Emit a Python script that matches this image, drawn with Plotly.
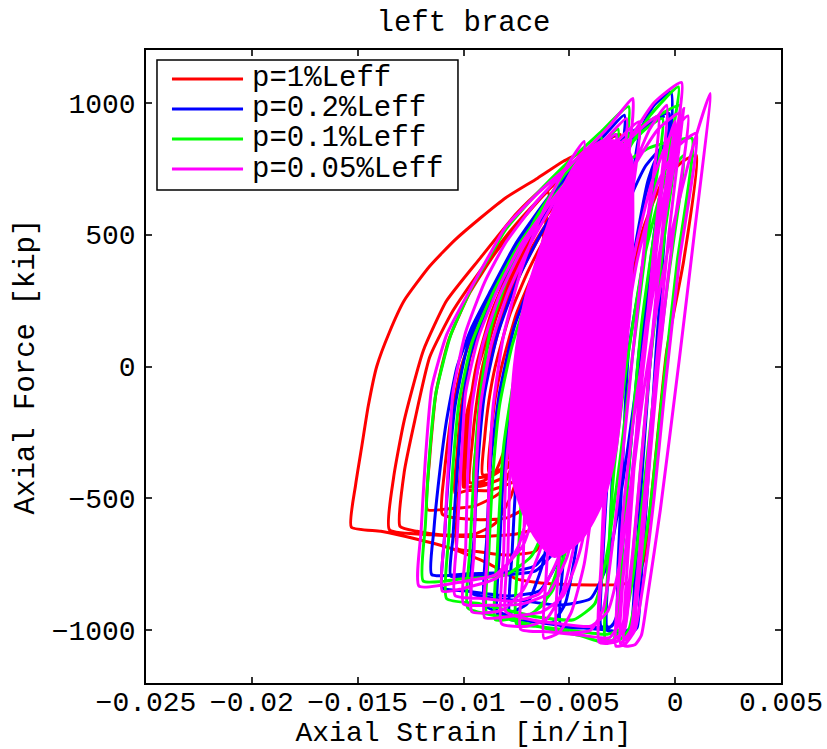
import plotly.graph_objects as go

FONT = "Liberation Mono"

series_names = ["p=1%Leff", "p=0.2%Leff", "p=0.1%Leff", "p=0.05%Leff"]
series_colors = ["#ff0000", "#0000ff", "#00ff00", "#ff00ff"]

x_tick_vals = [-0.025, -0.02, -0.015, -0.01, -0.005, 0, 0.005]
x_tick_text = ["\u22120.025", "\u22120.02", "\u22120.015", "\u22120.01", "\u22120.005", "0", "0.005"]
y_tick_vals = [-1000, -500, 0, 500, 1000]
y_tick_text = ["\u22121000", "\u2212500", "0", "500", "1000"]

# (axial strain [in/in], axial force [kip])
red_path = [
    (-0.0030, -300), (-0.0024, 150), (-0.0016, 500), (-0.0006, 700), (0.0004, 780), (0.0010, 800),
    (0.0004, 400), (-0.0004, 60), (-0.0010, -400), (-0.0015, -740), (-0.0019, -810), (-0.0025, -826),
    (-0.0040, -828), (-0.0054, -826), (-0.0066, -818), (-0.0075, -805), (-0.0089, -744), (-0.0105, -692),
    (-0.0121, -657), (-0.0139, -625), (-0.0153, -609),
    (-0.0151, -450), (-0.0148, -300), (-0.0145, -150), (-0.0141, 0), (-0.0135, 130), (-0.0128, 250),
    (-0.0116, 380), (-0.0104, 480), (-0.0092, 563), (-0.0080, 640), (-0.0065, 714), (-0.0053, 777),
    (-0.0040, 830), (-0.0030, 868), (-0.0026, 880),
    (-0.0033, 450), (-0.0040, 30), (-0.0046, -300), (-0.0052, -520), (-0.0060, -600), (-0.0075, -635),
    (-0.0095, -645), (-0.0115, -638), (-0.0135, -619),
    (-0.0133, -420), (-0.0128, -204), (-0.0119, 60), (-0.0108, 249), (-0.0092, 412), (-0.0075, 580),
    (-0.0062, 680), (-0.0048, 770),
    (-0.0055, 350), (-0.0062, 0), (-0.0070, -300), (-0.0078, -500), (-0.0085, -595), (-0.0095, -636),
    (-0.0111, -638), (-0.0122, -625), (-0.0130, -606),
    (-0.0128, -400), (-0.0123, -204), (-0.0116, 35), (-0.0105, 211), (-0.0091, 375), (-0.0078, 513),
    (-0.0066, 620), (-0.0055, 700),
    (-0.0062, 300), (-0.0069, -50), (-0.0076, -350), (-0.0083, -480), (-0.0095, -530), (-0.0108, -540),
    (-0.0117, -543),
    (-0.0116, -350), (-0.0113, -100), (-0.0107, 100), (-0.0097, 280), (-0.0085, 430), (-0.0072, 560),
    (-0.0060, 660),
    (-0.0066, 300), (-0.0072, 0), (-0.0078, -250), (-0.0085, -400), (-0.0094, -450), (-0.0100, -457),
    (-0.0099, -300), (-0.0097, -150), (-0.0094, 0), (-0.0087, 200), (-0.0078, 370), (-0.0068, 520),
    (-0.0058, 650), (-0.0052, 710),
    (-0.0060, 300), (-0.0067, 0), (-0.0074, -250), (-0.0082, -390), (-0.0091, -435), (-0.0097, -440),
    (-0.0096, -300), (-0.0094, -150), (-0.0091, 0), (-0.0084, 200), (-0.0075, 370), (-0.0065, 520),
    (-0.0055, 650), (-0.0049, 720),
    (-0.0057, 300), (-0.0064, 0), (-0.0071, -240), (-0.0079, -370), (-0.0088, -415), (-0.0094, -420),
    (-0.0093, -280), (-0.0091, -140), (-0.0088, 0), (-0.0081, 200), (-0.0072, 370), (-0.0062, 520),
    (-0.0052, 650), (-0.0046, 720),
    (-0.0054, 300), (-0.0061, 0), (-0.0068, -230), (-0.0076, -360), (-0.0085, -405), (-0.0091, -410),
    (-0.0090, -270), (-0.0088, -130), (-0.0085, 0), (-0.0078, 200), (-0.0069, 370), (-0.0059, 520),
    (-0.0049, 650), (-0.0043, 720),
    (-0.0051, 300), (-0.0058, 0), (-0.0065, -220), (-0.0073, -350), (-0.0082, -395), (-0.0088, -400),
    (-0.0087, -260), (-0.0085, -120), (-0.0082, 0), (-0.0075, 200), (-0.0066, 370), (-0.0056, 520),
    (-0.0046, 650), (-0.0040, 720),
    (-0.0046, 300), (-0.0051, -100), (-0.0055, -400), (-0.0059, -600), (-0.0066, -700), (-0.0080, -715),
    (-0.0095, -700), (-0.0103, -690),
    (-0.0102, -450), (-0.0099, -200), (-0.0093, 0), (-0.0084, 220), (-0.0073, 420), (-0.0060, 580),
    (-0.0048, 700), (-0.0040, 750),
    (-0.0047, 350), (-0.0054, -50), (-0.0061, -350), (-0.0068, -520), (-0.0080, -575), (-0.0095, -580),
    (-0.0110, -560),
    (-0.0109, -400), (-0.0106, -200), (-0.0101, 0), (-0.0093, 180), (-0.0082, 360), (-0.0070, 510),
    (-0.0058, 630), (-0.0046, 720),
    (-0.0053, 300), (-0.0060, -50), (-0.0067, -300), (-0.0075, -430), (-0.0088, -470), (-0.0098, -470),
    (-0.0104, -480),
    (-0.0103, -330), (-0.0101, -150), (-0.0097, 30), (-0.0090, 200), (-0.0080, 380), (-0.0069, 530),
    (-0.0058, 640), (-0.0050, 700),
    (-0.0057, 300), (-0.0064, -30), (-0.0071, -280), (-0.0079, -410), (-0.0090, -450), (-0.0099, -455),
    (-0.0098, -300), (-0.0096, -130), (-0.0092, 40), (-0.0085, 220), (-0.0076, 390), (-0.0065, 540),
    (-0.0054, 660), (-0.0047, 720),
    (-0.0054, 300), (-0.0061, -30), (-0.0068, -270), (-0.0076, -400), (-0.0087, -440), (-0.0095, -445),
    (-0.0094, -300), (-0.0092, -130), (-0.0088, 40), (-0.0081, 220), (-0.0072, 390), (-0.0061, 540),
    (-0.0050, 660), (-0.0044, 720),
]

blue_path = [
    (-0.0030, -300), (-0.0026, 100), (-0.0022, 500), (-0.0019, 780), (-0.0016, 903), (-0.0010, 990),
    (-0.0002, 1040),
    (-0.0005, 500), (-0.0009, 60), (-0.0013, -450), (-0.0016, -800), (-0.0018, -990), (-0.0022, -1018),
    (-0.0030, -1002), (-0.0045, -990), (-0.0060, -975), (-0.0070, -965), (-0.0078, -958),
    (-0.0077, -700), (-0.0075, -400), (-0.0073, -204), (-0.0069, 0), (-0.0056, 249), (-0.0045, 420),
    (-0.0037, 580), (-0.0030, 700), (-0.0026, 760),
    (-0.0033, 300), (-0.0040, -150), (-0.0048, -480), (-0.0056, -690), (-0.0066, -775), (-0.0080, -790),
    (-0.0095, -792), (-0.0106, -795),
    (-0.0105, -650), (-0.0104, -517), (-0.0101, -204), (-0.0097, 40), (-0.0088, 230), (-0.0075, 420),
    (-0.0061, 580), (-0.0047, 710), (-0.0036, 780), (-0.0031, 810),
    (-0.0038, 350), (-0.0044, -50), (-0.0050, -420), (-0.0057, -650), (-0.0066, -755), (-0.0080, -780),
    (-0.0098, -786), (-0.0115, -789),
    (-0.0114, -620), (-0.0112, -455), (-0.0108, -204), (-0.0103, 0), (-0.0096, 150), (-0.0087, 290),
    (-0.0075, 470), (-0.0060, 640), (-0.0045, 780), (-0.0033, 880), (-0.0024, 953),
    (-0.0030, 500), (-0.0036, 0), (-0.0042, -400), (-0.0047, -700), (-0.0052, -900), (-0.0058, -970),
    (-0.0068, -965), (-0.0078, -945), (-0.0090, -905),
    (-0.0089, -650), (-0.0087, -350), (-0.0083, -100), (-0.0076, 150), (-0.0064, 400), (-0.0050, 620),
    (-0.0036, 780), (-0.0022, 880), (-0.0010, 940), (-0.0003, 960),
    (-0.0010, 500), (-0.0017, 60), (-0.0022, -400), (-0.0025, -700), (-0.0027, -930), (-0.0030, -985),
    (-0.0040, -990), (-0.0054, -985),
    (-0.0053, -750), (-0.0050, -400), (-0.0045, -100), (-0.0037, 250), (-0.0026, 550), (-0.0014, 760),
    (-0.0004, 850), (0.0000, 870),
    (-0.0007, 400), (-0.0012, 0), (-0.0016, -450), (-0.0019, -800), (-0.0021, -990), (-0.0025, -1010),
    (-0.0032, -1000),
    (-0.0031, -700), (-0.0029, -300), (-0.0025, 100), (-0.0019, 450), (-0.0013, 700), (-0.0009, 790),
    (-0.0016, 350), (-0.0022, 60), (-0.0025, -400), (-0.0027, -750), (-0.0028, -960), (-0.0031, -990),
    (-0.0035, -985),
    (-0.0034, -700), (-0.0031, -300), (-0.0027, 0), (-0.0020, 400), (-0.0014, 650), (-0.0008, 800),
    (-0.0004, 860),
    (-0.0011, 400), (-0.0018, -50), (-0.0025, -450), (-0.0032, -750), (-0.0040, -880), (-0.0055, -905),
    (-0.0070, -890), (-0.0096, -860),
    (-0.0095, -650), (-0.0093, -350), (-0.0090, -100), (-0.0084, 120), (-0.0075, 320), (-0.0063, 510),
    (-0.0050, 680), (-0.0038, 800), (-0.0028, 880),
    (-0.0034, 400), (-0.0041, -50), (-0.0048, -450), (-0.0055, -730), (-0.0064, -850), (-0.0078, -870),
    (-0.0100, -850), (-0.0110, -840),
    (-0.0109, -650), (-0.0107, -400), (-0.0104, -150), (-0.0098, 80), (-0.0088, 270), (-0.0076, 450),
    (-0.0062, 610), (-0.0048, 740), (-0.0036, 830),
    (-0.0043, 350), (-0.0050, -100), (-0.0057, -500), (-0.0063, -760), (-0.0070, -900), (-0.0080, -940),
    (-0.0084, -940),
    (-0.0083, -700), (-0.0081, -400), (-0.0078, -150), (-0.0072, 100), (-0.0062, 330), (-0.0050, 540),
    (-0.0037, 710), (-0.0024, 840), (-0.0012, 920), (-0.0005, 950),
]

green_path = [
    (-0.0045, 0), (-0.0035, 480), (-0.0025, 780), (-0.0012, 950), (0.00015, 1060),
    (-0.0008, 600), (-0.0016, 150), (-0.0021, -300), (-0.0025, -700), (-0.0027, -950), (-0.0029, -1035),
    (-0.0034, -1046), (-0.0045, -1020), (-0.0055, -1005), (-0.0070, -975), (-0.0085, -945), (-0.0098, -915),
    (-0.0097, -700), (-0.0095, -400), (-0.0092, -100), (-0.0087, 150), (-0.0078, 360), (-0.0066, 560),
    (-0.0053, 720), (-0.0042, 820), (-0.0035, 870),
    (-0.0042, 400), (-0.0048, 0), (-0.0054, -350), (-0.0060, -580), (-0.0068, -720), (-0.0080, -790),
    (-0.0100, -805), (-0.0119, -814),
    (-0.0118, -600), (-0.0116, -330), (-0.0113, -100), (-0.0106, 120), (-0.0096, 300), (-0.0086, 440),
    (-0.0080, 520), (-0.0066, 650), (-0.0050, 780), (-0.0035, 890), (-0.0022, 985),
    (-0.0029, 500), (-0.0036, 50), (-0.0043, -350), (-0.0050, -650), (-0.0058, -850), (-0.0068, -940),
    (-0.0078, -958), (-0.0085, -960),
    (-0.0084, -700), (-0.0081, -300), (-0.0075, 0), (-0.0066, 250), (-0.0053, 480), (-0.0040, 640),
    (-0.0026, 760), (-0.0012, 830), (0.0000, 855), (0.0008, 865),
    (0.0001, 400), (-0.0006, -100), (-0.0012, -550), (-0.0018, -850), (-0.0022, -1000), (-0.0027, -1040),
    (-0.0033, -1035),
    (-0.0032, -800), (-0.0029, -400), (-0.0023, 0), (-0.0015, 400), (-0.0005, 700), (0.0004, 800),
    (-0.0003, 350), (-0.0010, -100), (-0.0016, -550), (-0.0021, -850), (-0.0025, -990), (-0.0032, -1015),
    (-0.0050, -1000), (-0.0066, -985), (-0.0075, -975),
    (-0.0074, -700), (-0.0072, -400), (-0.0070, -150), (-0.0065, 80), (-0.0057, 300), (-0.0047, 500),
    (-0.0036, 680), (-0.0025, 810), (-0.0014, 900), (-0.0006, 940),
    (-0.0013, 500), (-0.0020, 50), (-0.0026, -350), (-0.0032, -700), (-0.0038, -900), (-0.0048, -960),
    (-0.0065, -950), (-0.0092, -900), (-0.0108, -880),
    (-0.0107, -650), (-0.0105, -380), (-0.0102, -130), (-0.0096, 90), (-0.0086, 280), (-0.0074, 460),
    (-0.0060, 620), (-0.0046, 750), (-0.0034, 850), (-0.0027, 900),
    (-0.0034, 400), (-0.0041, -50), (-0.0048, -450), (-0.0055, -750), (-0.0062, -900), (-0.0072, -955),
    (-0.0080, -950), (-0.0089, -935),
    (-0.0088, -700), (-0.0086, -400), (-0.0083, -150), (-0.0077, 80), (-0.0068, 300), (-0.0056, 500),
    (-0.0043, 680), (-0.0030, 810), (-0.0018, 900), (-0.0006, 960), (0.0002, 990),
    (-0.0005, 500), (-0.0012, 0), (-0.0017, -450), (-0.0021, -800), (-0.0024, -990), (-0.0029, -1030),
]

magenta_path = [
    (-0.0035, -200), (-0.0030, 300), (-0.0022, 700), (-0.0012, 900), (-0.0004, 991),
    (-0.0010, 450), (-0.0016, -50), (-0.0021, -500), (-0.0025, -820), (-0.0027, -980), (-0.0031, -1028),
    (-0.0045, -1018), (-0.0060, -1006), (-0.0073, -996),
    (-0.0072, -800), (-0.0071, -500), (-0.0069, -200), (-0.0066, 50), (-0.0060, 300), (-0.0052, 520),
    (-0.0042, 700), (-0.0030, 830), (-0.0017, 928),
    (-0.0024, 450), (-0.0031, 0), (-0.0038, -400), (-0.0045, -700), (-0.0053, -870), (-0.0063, -930),
    (-0.0076, -945), (-0.0090, -952),
    (-0.0089, -750), (-0.0088, -450), (-0.0086, -150), (-0.0081, 120), (-0.0073, 360), (-0.0064, 560),
    (-0.0054, 720), (-0.0043, 853),
    (-0.0051, 350), (-0.0058, -50), (-0.0066, -420), (-0.0074, -680), (-0.0084, -800), (-0.0097, -835),
    (-0.0110, -852),
    (-0.0109, -650), (-0.0107, -350), (-0.0105, -100), (-0.0099, 130), (-0.0090, 320), (-0.0080, 470),
    (-0.0066, 620), (-0.0050, 760), (-0.0039, 841),
    (-0.0047, 350), (-0.0055, -100), (-0.0063, -450), (-0.0072, -680), (-0.0085, -790), (-0.0100, -815),
    (-0.0121, -833),
    (-0.0120, -620), (-0.0118, -350), (-0.0115, -80), (-0.0108, 120), (-0.0097, 290), (-0.0088, 420),
    (-0.0080, 530), (-0.0064, 664), (-0.0048, 777), (-0.0032, 903), (-0.0020, 1016),
    (-0.0020, 950), (-0.0026, 500), (-0.0032, 0), (-0.0038, -450), (-0.0043, -750), (-0.0049, -930),
    (-0.0055, -1010), (-0.0062, -1030),
    (-0.0061, -800), (-0.0058, -450), (-0.0052, -100), (-0.0044, 250), (-0.0033, 600), (-0.0022, 850),
    (-0.0010, 1000), (0.0003, 1077),
    (-0.0005, 600), (-0.0011, 100), (-0.0016, -350), (-0.0020, -700), (-0.0024, -950), (-0.0027, -1040),
    (-0.0032, -1050), (-0.0036, -1045),
    (-0.0035, -800), (-0.0032, -400), (-0.0026, 0), (-0.0018, 400), (-0.0008, 700), (0.0002, 840),
    (0.0010, 884),
    (0.0002, 400), (-0.0005, -100), (-0.0010, -500), (-0.0015, -820), (-0.0019, -1000), (-0.0024, -1055),
    (-0.0028, -1060),
    (-0.0027, -850), (-0.0024, -500), (-0.0018, -100), (-0.0010, 300), (-0.0003, 650), (0.0002, 880),
    (0.0004, 978),
    (-0.0003, 500), (-0.0009, 0), (-0.0014, -450), (-0.0018, -800), (-0.0021, -1000), (-0.0026, -1050),
    (-0.0025, -850), (-0.0021, -500), (-0.0015, -100), (-0.0007, 300), (0.0001, 600), (0.0009, 850),
    (0.00165, 1035),
    (0.0009, 500), (0.0002, 30), (-0.0007, -543), (-0.0013, -870), (-0.0016, -1020), (-0.0019, -1055),
    (-0.0024, -1059),
    (-0.0023, -800), (-0.0020, -450), (-0.0016, 0), (-0.0010, 400), (-0.0006, 700), (-0.0003, 860),
    (0.0000, 930),
    (-0.0008, 500), (-0.0015, 0), (-0.0021, -450), (-0.0027, -780), (-0.0032, -930), (-0.0040, -985),
    (-0.0055, -975), (-0.0068, -960), (-0.0080, -930),
    (-0.0079, -700), (-0.0078, -400), (-0.0075, -150), (-0.0070, 80), (-0.0062, 300), (-0.0052, 500),
    (-0.0041, 680), (-0.0030, 800), (-0.0024, 860),
    (-0.0030, 400), (-0.0037, -50), (-0.0044, -450), (-0.0051, -720), (-0.0060, -860), (-0.0072, -900),
    (-0.0086, -905), (-0.0100, -900),
    (-0.0099, -700), (-0.0098, -400), (-0.0096, -150), (-0.0091, 80), (-0.0083, 270), (-0.0072, 450),
    (-0.0060, 610), (-0.0047, 740), (-0.0036, 830), (-0.0028, 880),
    (-0.0034, 400), (-0.0041, -50), (-0.0048, -450), (-0.0055, -720), (-0.0064, -860), (-0.0076, -890),
    (-0.0090, -880), (-0.0104, -868),
    (-0.0103, -650), (-0.0101, -350), (-0.0099, -100), (-0.0093, 110), (-0.0084, 290), (-0.0073, 460),
    (-0.0060, 610), (-0.0047, 730), (-0.0036, 810),
    (-0.0043, 350), (-0.0050, -100), (-0.0057, -450), (-0.0064, -700), (-0.0072, -850), (-0.0082, -925),
    (-0.0096, -930),
    (-0.0095, -700), (-0.0094, -400), (-0.0092, -150), (-0.0087, 80), (-0.0079, 280), (-0.0068, 470),
    (-0.0056, 640), (-0.0044, 770), (-0.0032, 870), (-0.0023, 940),
    (-0.0029, 500), (-0.0035, 50), (-0.0041, -350), (-0.0047, -650), (-0.0053, -850), (-0.0061, -960),
    (-0.0070, -985), (-0.0082, -975),
    (-0.0081, -700), (-0.0080, -400), (-0.0077, -150), (-0.0072, 80), (-0.0064, 290), (-0.0054, 480),
    (-0.0043, 650), (-0.0031, 780), (-0.0018, 890), (-0.0008, 950),
    (-0.0014, 500), (-0.0020, 50), (-0.0025, -350), (-0.0030, -700), (-0.0034, -920), (-0.0040, -1000),
    (-0.0050, -1010), (-0.0056, -1005),
    (-0.0055, -750), (-0.0053, -400), (-0.0049, -100), (-0.0042, 200), (-0.0032, 500), (-0.0020, 750),
    (-0.0008, 900), (0.0002, 960),
    (-0.0006, 500), (-0.0012, 0), (-0.0017, -450), (-0.0021, -800), (-0.0024, -1000), (-0.0030, -1040),
    (-0.0036, -1035),
    (-0.0035, -750), (-0.0033, -400), (-0.0028, 0), (-0.0020, 400), (-0.0011, 700), (-0.0002, 880),
    (0.0006, 950),
    (-0.0001, 500), (-0.0008, 0), (-0.0013, -450), (-0.0017, -800), (-0.0020, -1000), (-0.0024, -1040),
]

# outline of the region where the p=0.05%Leff cycles overlap solidly
magenta_dense_outline = [
    (-0.0035, 853), (-0.0046, 777), (-0.0056, 626), (-0.0064, 438), (-0.0071, 249), (-0.0076, 0),
    (-0.0078, -317), (-0.0076, -450), (-0.0070, -590), (-0.0063, -680), (-0.0057, -720),
    (-0.0044, -650), (-0.0034, -506), (-0.0028, -317), (-0.0024, 0), (-0.0021, 249), (-0.0020, 626),
    (-0.0021, 800), (-0.0026, 850), (-0.0035, 853),
]

paths = [red_path, blue_path, green_path, magenta_path]

fig = go.Figure()
for name, color, path in zip(series_names, series_colors, paths):
    fig.add_trace(go.Scatter(
        x=[p[0] for p in path], y=[p[1] for p in path], mode="lines", name=name,
        line=dict(color=color, width=3, shape="spline", smoothing=0.5), showlegend=False,
    ))
    if path is magenta_path:
        fig.add_trace(go.Scatter(
            x=[p[0] for p in magenta_dense_outline], y=[p[1] for p in magenta_dense_outline],
            mode="lines", fill="toself", fillcolor=color,
            line=dict(color=color, width=3, shape="spline", smoothing=0.8),
            name=name, showlegend=False, hoverinfo="skip",
        ))

axis_common = dict(
    showline=True, linecolor="black", linewidth=1.5, mirror="ticks", ticks="inside",
    ticklen=6, tickwidth=1.5, tickcolor="#333333", showgrid=False, zeroline=False,
    automargin=False, tickfont=dict(family=FONT, size=28, color="black"),
)

fig.update_layout(
    width=827, height=749,
    margin=dict(l=146, r=46, t=50, b=66),
    paper_bgcolor="white", plot_bgcolor="white",
    showlegend=False,
    title=dict(text="left brace", x=0.5, xref="paper", xanchor="center", y=1 - 21 / 749,
               yref="container", yanchor="middle", font=dict(family=FONT, size=29, color="black")),
    xaxis=dict(range=[-0.025, 0.005], tickvals=x_tick_vals, ticktext=x_tick_text,
               title=dict(text="Axial Strain [in/in]", standoff=14,
                          font=dict(family=FONT, size=28, color="black")),
               ticklabelstandoff=-7, **axis_common),
    yaxis=dict(range=[-1200, 1200], tickvals=y_tick_vals, ticktext=y_tick_text,
               title=dict(text="Axial Force [kip]", standoff=8,
                          font=dict(family=FONT, size=29, color="black")),
               ticklabelstandoff=3, **axis_common),
)

# legend box (drawn above the data, like the original)
lx0, lx1, ly0, ly1 = 0.0173, 0.4913, 0.7788, 0.9842
fig.add_shape(type="rect", xref="paper", yref="paper", x0=lx0, x1=lx1, y0=ly0, y1=ly1,
              fillcolor="white", line=dict(color="black", width=1.5), layer="above")
row_y = [0.9542, 0.9068, 0.8594, 0.8120]
for name, color, yy in zip(series_names, series_colors, row_y):
    fig.add_shape(type="line", xref="paper", yref="paper", x0=0.0409, x1=0.1528, y0=yy, y1=yy,
                  line=dict(color=color, width=3), layer="above")
    fig.add_annotation(text=name, xref="paper", yref="paper", x=0.1638, y=yy, xanchor="left",
                       yanchor="middle", showarrow=False,
                       font=dict(family=FONT, size=29, color="black"))

fig.write_html("out.html")
